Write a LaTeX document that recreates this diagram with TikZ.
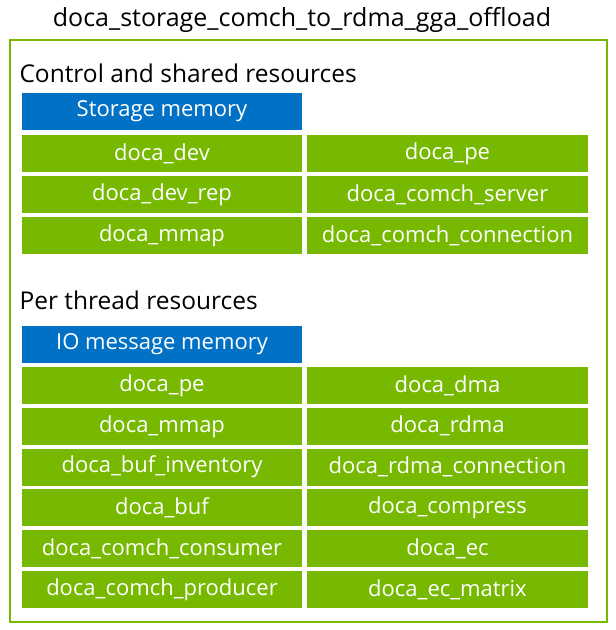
\documentclass[tikz,border=0pt]{standalone}
\usepackage{fontspec}
\setmainfont{Open Sans}
\begin{document}
\begin{tikzpicture}[x=1pt,y=-1pt]
    % Define colors
    \definecolor{docagreen}{RGB}{118,185,0}
    \definecolor{docablue}{RGB}{0,113,197}
    \tikzset{
        res/.style={fill=docagreen, text=white, minimum width=280pt, minimum height=37pt,
            inner sep=0pt, font=\fontsize{22}{24}\selectfont},
        mem/.style={res, fill=docablue},
        heading/.style={anchor=west, font=\fontsize{24.5}{27}\selectfont}
    }
    \useasboundingbox (0,0) rectangle (616,630);

    % Title and frame
    \node[font=\fontsize{25}{27}\selectfont] (title) at (302,20) {doca\_storage\_comch\_to\_rdma\_gga\_offload};
    \draw[docagreen, line width=2pt] (10,40) rectangle (607,622);

    % Control and shared resources
    \node[heading] (ctrl) at (16,73) {Control and shared resources};
    \node[mem] (smem) at (162,111.5) {Storage memory};
    \foreach \name/\l/\r [count=\i] in {a/doca\_dev/doca\_pe, b/doca\_dev\_rep/doca\_comch\_server,
        c/doca\_mmap/doca\_comch\_connection} {
        \node[res] (ctrl-\name-l) at (162,{153.5+41*(\i-1)}) {\l};
        \node[res, minimum width=281pt] (ctrl-\name-r) at (447.5,{153.5+41*(\i-1)}) {\r};
    }

    % Per thread resources
    \node[heading] (thr) at (16,300) {Per thread resources};
    \node[mem] (iomem) at (162,344) {IO message memory};
    \foreach \name/\l/\r [count=\i] in {a/doca\_pe/doca\_dma, b/doca\_mmap/doca\_rdma,
        c/doca\_buf\_inventory/doca\_rdma\_connection, d/doca\_buf/doca\_compress,
        e/doca\_comch\_consumer/doca\_ec, f/doca\_comch\_producer/doca\_ec\_matrix} {
        \node[res] (thr-\name-l) at (162,{385.5+40.8*(\i-1)}) {\l};
        \node[res, minimum width=281pt] (thr-\name-r) at (447.5,{385.5+40.8*(\i-1)}) {\r};
    }
\end{tikzpicture}
\end{document}
